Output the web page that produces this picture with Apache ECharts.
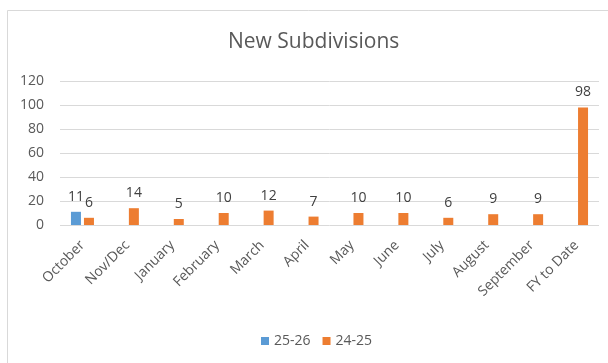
<!DOCTYPE html>
<html>
<head>
<meta charset="utf-8">
<script src="https://cdn.jsdelivr.net/npm/echarts@6/dist/echarts.min.js"></script>
<style>
  html, body { margin: 0; padding: 0; background: #fff; }
  #chart { width: 608px; height: 363px; }
</style>
</head>
<body>
<div id="chart"></div>
<script>
// Monthly counts of new subdivisions, by fiscal year
const categories = ['October', 'Nov/Dec', 'January', 'February', 'March', 'April',
  'May', 'June', 'July', 'August', 'September', 'FY to Date'];
const fy2526 = [11, null, null, null, null, null, null, null, null, null, null, null];
const fy2425 = [6, 14, 5, 10, 12, 7, 10, 10, 6, 9, 9, 98];
const yTicks = [0, 20, 40, 60, 80, 100, 120];

const FONT = '"Open Sans", "Noto Sans", sans-serif';
const chart = echarts.init(document.getElementById('chart'), null, { renderer: 'canvas' });

const labelStyle = {
  show: true,
  position: 'top',
  distance: 8,
  color: '#404040',
  fontFamily: FONT,
  fontSize: 14
};

chart.setOption({
  animation: false,
  backgroundColor: '#ffffff',
  graphic: [{
    type: 'rect',
    shape: { x: 7.5, y: 10.5, width: 640, height: 400 },
    style: { fill: 'none', stroke: '#d9d9d9', lineWidth: 1 },
    silent: true
  }],
  title: {
    text: 'New Subdivisions',
    left: 223,
    top: 27,
    textStyle: { color: '#595959', fontFamily: FONT, fontWeight: 'normal', fontSize: 21 }
  },
  legend: {
    data: ['25-26', '24-25'],
    left: 256,
    top: 329,
    orient: 'horizontal',
    itemWidth: 8,
    itemHeight: 8,
    itemGap: 12,
    textStyle: { color: '#595959', fontFamily: FONT, fontSize: 14 },
    icon: 'rect'
  },
  grid: { left: 60, right: 9, top: 81, height: 144 },
  xAxis: {
    type: 'category',
    data: categories,
    axisLine: { show: false },
    axisTick: { show: false },
    axisLabel: {
      rotate: 45,
      interval: 0,
      margin: 18,
      color: '#595959',
      fontFamily: FONT,
      fontSize: 14
    }
  },
  yAxis: {
    type: 'value',
    min: yTicks[0],
    max: yTicks[yTicks.length - 1],
    interval: yTicks[1] - yTicks[0],
    axisLine: { show: false },
    axisTick: { show: false },
    splitLine: { lineStyle: { color: '#d9d9d9', width: 1 } },
    axisLabel: { color: '#595959', fontFamily: FONT, fontSize: 14, margin: 16 }
  },
  series: [
    {
      name: '25-26',
      type: 'bar',
      data: fy2526,
      barWidth: 10,
      barGap: '30%',
      itemStyle: { color: '#5B9BD5' },
      label: labelStyle
    },
    {
      name: '24-25',
      type: 'bar',
      data: fy2425,
      barWidth: 10,
      barGap: '30%',
      itemStyle: { color: '#ED7D31' },
      label: labelStyle
    }
  ]
});
</script>
</body>
</html>
